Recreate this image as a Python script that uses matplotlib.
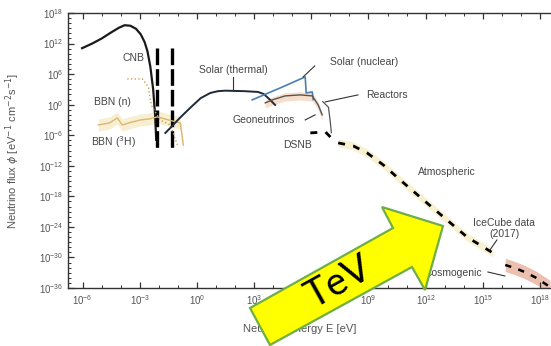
import numpy as np
import matplotlib
matplotlib.use("Agg")
import matplotlib.pyplot as plt
from matplotlib.patches import Polygon
from matplotlib.ticker import FixedLocator, FixedFormatter, NullFormatter

plt.rcParams['font.family'] = ['Liberation Sans', 'DejaVu Sans']

# ---- data (log10 E [eV], log10 flux) ----
cnb_logE = [-6.03, -5.5, -5.0, -4.5, -4.1, -3.8, -3.5, -3.2, -2.95, -2.75, -2.6, -2.45, -2.3, -2.2, -2.14]
cnb_logF = [11.09, 12.0, 13.0, 14.2, 15.1, 15.6, 15.5, 14.9, 13.8, 12.3, 10.5, 7.5, 3.0, -2.0, -6.9]

cnb_lines_logE = [-2.08, -1.30]
cnb_lines_logF = [11.15, -8.9]

bbn_n_logE = [-3.66, -2.87, -2.55, -2.45, -2.35, -1.93, -1.40, -1.03]
bbn_n_logF = [5.06, 5.06, 3.5, 0.9, -0.44, -3.0, -4.0, -7.9]

bbn_h_logE = [-5.18, -4.6, -4.18, -3.92, -3.5, -2.97, -2.5, -2.08, -1.5, -0.88, -0.72]
bbn_h_logF = [-3.98, -3.6, -2.6, -4.0, -3.5, -3.0, -2.8, -2.4, -3.0, -3.6, -7.9]

solar_th_logE = [-1.66, -1.40, -0.9, -0.35, 0.2, 0.70, 1.1, 1.48, 2.5, 3.2, 3.5, 3.84, 4.10]
solar_th_logF = [-5.55, -4.57, -2.6, -0.6, 1.3, 2.3, 2.65, 2.75, 2.65, 2.5, 2.1, 0.94, -0.05]

solar_nuc_logE = [2.90, 4.37, 5.68, 5.73, 6.05, 6.10]
solar_nuc_logF = [0.94, 3.29, 5.45, 2.31, 2.5, 1.0]

reactor_logE = [3.58, 4.0, 4.63, 5.42, 6.05, 6.36, 6.57]
reactor_logF = [0.35, 1.0, 1.72, 1.92, 1.72, -0.05, -2.0]

reactor_tail_logE = [6.6, 6.9, 7.0, 7.05]
reactor_tail_logF = [0.6, -0.5, -3.5, -5.5]

dsnb_logE = [5.95, 6.74, 7.25]
dsnb_logF = [-5.55, -5.35, -7.3]

atmo_logE = [7.41, 8.2, 8.93, 9.8, 10.66, 12.07, 13.12, 14.17, 15.53]
atmo_logF = [-7.51, -8.1, -9.48, -11.9, -14.78, -19.3, -22.64, -25.98, -29.12]

cosmo_logE = [16.18, 16.7, 17.2, 17.8, 18.53]
cosmo_logF = [-31.48, -32.1, -32.86, -34.0, -35.8]

labels = ["CNB", "BBN (n)", "BBN ($^3$H)", "Solar (thermal)", "Solar (nuclear)",
          "Reactors", "Geoneutrinos", "DSNB", "Atmospheric", "IceCube data\n(2017)",
          "Cosmogenic"]
label_logE = [-3.34, -4.44, -4.39, 1.91, 8.77, 9.97, 3.48, 5.26, 13.12, 16.12, 13.44]
label_logF = [9.19, 0.54, -7.32, 6.83, 8.40, 1.92, -3.0, -7.9, -13.2, -24.3, -33.05]

leaders = [((1.91, 5.45), (1.91, 2.7)),
           ((6.18, 7.6), (5.57, 5.45)),
           ((8.45, 1.92), (6.73, 0.54)),
           ((5.68, -3.0), (6.2, -2.0)),
           ((15.74, -26.57), (15.38, -28.5)),
           ((15.27, -32.86), (16.16, -33.64))]

x_major = list(range(-6, 19, 3))
y_major = list(range(-36, 19, 6))


def p(v):
    return 10.0 ** np.asarray(v)


fig = plt.figure(figsize=(5.51, 3.46), dpi=100)
ax = fig.add_axes([68 / 551, 58 / 346, 1 - 68 / 551, 275 / 346])
ax.set_xscale('log')
ax.set_yscale('log')
ax.set_xlim(10 ** -6.77, 10 ** 18.58)
ax.set_ylim(1e-36, 1e18)

# shaded bands
ax.fill_between(p(bbn_h_logE), p(np.array(bbn_h_logF) - 1.2), p(np.array(bbn_h_logF) + 1.2),
                color='#f6e9c0', alpha=0.7, lw=0)
ax.fill_between(p(reactor_logE), p(np.array(reactor_logF) - 1.0), p(np.array(reactor_logF) + 0.6),
                color='#f4d6bd', alpha=0.8, lw=0)
ax.fill_between(p(atmo_logE), p(np.array(atmo_logF) - 0.8), p(np.array(atmo_logF) + 0.8),
                color='#f7f0cc', alpha=0.9, lw=0)
ax.fill_between(p(cosmo_logE), p(np.array(cosmo_logF) - 1.3), p(np.array(cosmo_logF) + 1.3),
                color='#eab9a6', alpha=0.9, lw=0)

# curves
ax.plot(p(cnb_logE), p(cnb_logF), color='#1a1a1a', lw=1.6)
for xe in cnb_lines_logE:
    ax.plot(p([xe, xe]), p(cnb_lines_logF), color='black', lw=2.4, dashes=(5, 1.2))
ax.plot(p(bbn_n_logE), p(bbn_n_logF), color='#c9a24a', lw=1.0, ls=':')
ax.plot(p(bbn_h_logE), p(bbn_h_logF), color='#d9b870', lw=1.0)
ax.plot(p(solar_th_logE), p(solar_th_logF), color='#1f2a38', lw=1.4)
ax.plot(p(solar_nuc_logE), p(solar_nuc_logF), color='#4a7fb0', lw=1.2)
ax.plot(p(reactor_logE), p(reactor_logF), color='#555555', lw=1.0)
ax.plot(p(reactor_tail_logE), p(reactor_tail_logF), color='#555555', lw=0.9)
ax.plot(p(dsnb_logE), p(dsnb_logF), color='black', lw=2.0, dashes=(2.5, 3))
ax.plot(p(atmo_logE), p(atmo_logF), color='black', lw=2.0, dashes=(2.5, 3))
ax.plot(p(cosmo_logE), p(cosmo_logF), color='black', lw=1.8, dashes=(2.5, 3))

# labels & leader lines
for t, xe, yf in zip(labels, label_logE, label_logF):
    ax.text(10 ** xe, 10 ** yf, t, ha='center', va='center', fontsize=7.5, color='#444444')
for (a, b) in leaders:
    ax.plot(p([a[0], b[0]]), p([a[1], b[1]]), color='#333333', lw=0.8)

# ticks
ax.xaxis.set_major_locator(FixedLocator(p(x_major)))
ax.xaxis.set_major_formatter(FixedFormatter([r"$\mathregular{10^{%d}}$" % v for v in x_major]))
ax.xaxis.set_minor_locator(FixedLocator(p(range(-6, 19))))
ax.xaxis.set_minor_formatter(NullFormatter())
ax.yaxis.set_major_locator(FixedLocator(p(y_major)))
ax.yaxis.set_major_formatter(FixedFormatter([r"$\mathregular{10^{%d}}$" % v for v in y_major]))
ax.yaxis.set_minor_locator(FixedLocator(p(range(-36, 19))))
ax.yaxis.set_minor_formatter(NullFormatter())
ax.tick_params(which='both', direction='in', top=True, right=False, colors='#333333',
               labelcolor='#555555', labelsize=7)
ax.tick_params(which='major', length=4, width=0.9)
ax.tick_params(which='minor', length=2.5, width=0.7)
ax.spines['right'].set_visible(False)
for s in ['left', 'bottom', 'top']:
    ax.spines[s].set_color('#333333')
    ax.spines[s].set_linewidth(1.0)

ax.set_ylabel(r"Neutrino flux $\phi$ [eV$^{-1}$ cm$^{-2}$s$^{-1}$]", fontsize=8, color='#555555')
ax.set_xlabel("Neutrino energy E [eV]", fontsize=8, color='#555555')
ax.xaxis.set_label_coords((300 - 68) / (551 - 68), -0.13)
ax.yaxis.set_label_coords(-0.095, 0.5)

# big yellow arrow overlay (pixel outline -> figure fraction)
arrow_px = [(250, 308), (393, 228), (382, 207), (443, 226), (425, 290), (412, 267), (270, 345)]
arrow_xy = [(x / 551, 1 - y / 346) for x, y in arrow_px]
fig.patches.append(Polygon(arrow_xy, closed=True, transform=fig.transFigure,
                           facecolor='#ffff00', edgecolor='#70ad47', lw=1.6, zorder=10))
fig.text(339 / 551, 1 - 282 / 346, "TeV", rotation=29, ha='center', va='center',
         fontsize=28, family=['Lato', 'DejaVu Sans'], color='black', zorder=11)

fig.savefig("out.png", dpi=100)
